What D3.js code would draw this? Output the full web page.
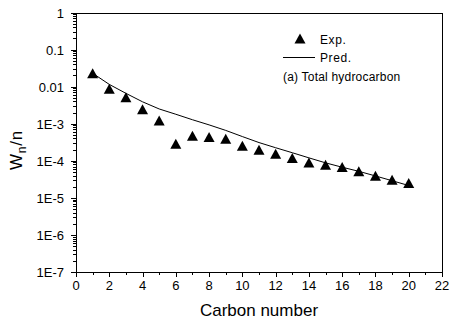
<!DOCTYPE html>
<html>
<head>
<meta charset="utf-8">
<script src="https://cdn.jsdelivr.net/npm/d3@7"></script>
<style>
  html, body { margin: 0; padding: 0; background: #fff; }
  svg { display: block; }
  text { font-family: Arial, "Liberation Sans", sans-serif; fill: #000; }
</style>
</head>
<body>
<svg id="chart" width="453" height="322"></svg>
<script>
// ---- Data ----
const carbonNumbers = [1, 2, 3, 4, 5, 6, 7, 8, 9, 10, 11, 12, 13, 14, 15, 16, 17, 18, 19, 20];
const expValues = [0.0229, 0.00883, 0.00519, 0.00247, 0.00122, 2.88e-4, 4.73e-4, 4.36e-4, 3.93e-4, 2.55e-4,
                   1.99e-4, 1.55e-4, 1.19e-4, 9.05e-5, 7.85e-5, 6.81e-5, 5.19e-5, 3.97e-5, 3.10e-5, 2.53e-5];
const predValues = [0.023, 0.0115, 0.0066, 0.0039, 0.0025, 0.0018, 0.00128, 9.3e-4, 6.6e-4, 4.5e-4,
                    3.1e-4, 2.25e-4, 1.65e-4, 1.2e-4, 8.8e-5, 6.7e-5, 5.2e-5, 3.9e-5, 2.9e-5, 2.15e-5];
const xTickValues = [0, 2, 4, 6, 8, 10, 12, 14, 16, 18, 20, 22];
const yTickValues = [1, 0.1, 0.01, 1e-3, 1e-4, 1e-5, 1e-6, 1e-7];
const yTickLabels = ["1", "0.1", "0.01", "1E-3", "1E-4", "1E-5", "1E-6", "1E-7"];
const legendLabels = ["Exp.", "Pred."];
const annotation = "(a) Total hydrocarbon";

// ---- Layout ----
const pLeft = 76, pRight = 442, pTop = 12.5, pBottom = 272;
const svg = d3.select("#chart");

const x = d3.scaleLinear().domain([0, 22]).range([pLeft, pRight]);
const y = d3.scaleLog().domain([1e-7, 1]).range([pBottom, pTop]);

// frame
svg.append("rect")
  .attr("x", pLeft + 0.5).attr("y", Math.round(pTop) + 0.5)
  .attr("width", pRight - pLeft).attr("height", Math.round(pBottom) - Math.round(pTop))
  .attr("fill", "none").attr("stroke", "#000").attr("stroke-width", 1);

// x axis ticks
const xMinor = [1, 3, 5, 7, 9, 11, 13, 15, 17, 19, 21];
const gx = svg.append("g");
gx.selectAll("line.maj").data(xTickValues).enter().append("line")
  .attr("x1", d => Math.round(x(d)) + 0.5).attr("x2", d => Math.round(x(d)) + 0.5)
  .attr("y1", Math.round(pBottom)).attr("y2", Math.round(pBottom) + 5)
  .attr("stroke", "#000");
gx.selectAll("line.min").data(xMinor).enter().append("line")
  .attr("x1", d => Math.round(x(d)) + 0.5).attr("x2", d => Math.round(x(d)) + 0.5)
  .attr("y1", Math.round(pBottom)).attr("y2", Math.round(pBottom) + 3)
  .attr("stroke", "#000");
gx.selectAll("text").data(xTickValues).enter().append("text")
  .attr("x", d => x(d)).attr("y", 289.5)
  .attr("text-anchor", "middle").attr("font-size", 13)
  .text(d => d);

// y axis ticks
const gy = svg.append("g");
gy.selectAll("line.maj").data(yTickValues).enter().append("line")
  .attr("x1", pLeft - 5).attr("x2", pLeft)
  .attr("y1", d => Math.round(y(d)) + 0.5).attr("y2", d => Math.round(y(d)) + 0.5)
  .attr("stroke", "#000");
const yMinor = [];
yTickValues.slice(1).forEach(base => { for (let k = 2; k <= 9; k++) yMinor.push(base * k); });
gy.selectAll("line.min").data(yMinor).enter().append("line")
  .attr("x1", pLeft - 3).attr("x2", pLeft)
  .attr("y1", d => Math.round(y(d)) + 0.5).attr("y2", d => Math.round(y(d)) + 0.5)
  .attr("stroke", "#000");
gy.selectAll("text").data(yTickValues).enter().append("text")
  .attr("x", 64).attr("y", d => y(d) + 5)
  .attr("text-anchor", "end").attr("font-size", 13)
  .text((d, i) => yTickLabels[i]);

// axis titles
svg.append("text")
  .attr("x", (pLeft + pRight) / 2).attr("y", 316)
  .attr("text-anchor", "middle").attr("font-size", 17)
  .text("Carbon number");

const yl = svg.append("text")
  .attr("transform", "translate(22,150) rotate(-90)")
  .attr("text-anchor", "middle").attr("font-size", 17)
  .attr("letter-spacing", 0.8);
yl.append("tspan").text("W");
yl.append("tspan").attr("font-size", 12).attr("dy", 4).text("n");
yl.append("tspan").attr("dy", -4).text("/n");

// prediction line
const line = d3.line().x((d, i) => x(carbonNumbers[i])).y(d => y(d));
svg.append("path").datum(predValues)
  .attr("d", line).attr("fill", "none").attr("stroke", "#000").attr("stroke-width", 1);

// triangles
function tri(cx, cy) {
  const w = 11, h = 10;
  return `M${cx},${cy - h / 2}L${cx + w / 2},${cy + h / 2}L${cx - w / 2},${cy + h / 2}Z`;
}
svg.append("g").selectAll("path").data(expValues).enter().append("path")
  .attr("d", (d, i) => tri(x(carbonNumbers[i]), y(d)))
  .attr("fill", "#000");

// legend
svg.append("path").attr("d", tri(300, 38.5)).attr("fill", "#000");
svg.append("text").attr("x", 320).attr("y", 43.5).attr("font-size", 12)
  .attr("letter-spacing", 0.6).text(legendLabels[0]);
svg.append("line").attr("x1", 283).attr("x2", 315).attr("y1", 57.5).attr("y2", 57.5)
  .attr("stroke", "#000");
svg.append("text").attr("x", 320).attr("y", 62).attr("font-size", 12)
  .attr("letter-spacing", 0.6).text(legendLabels[1]);
svg.append("text").attr("x", 283).attr("y", 80.5).attr("font-size", 12)
  .attr("letter-spacing", 0.2).text(annotation);
</script>
</body>
</html>
